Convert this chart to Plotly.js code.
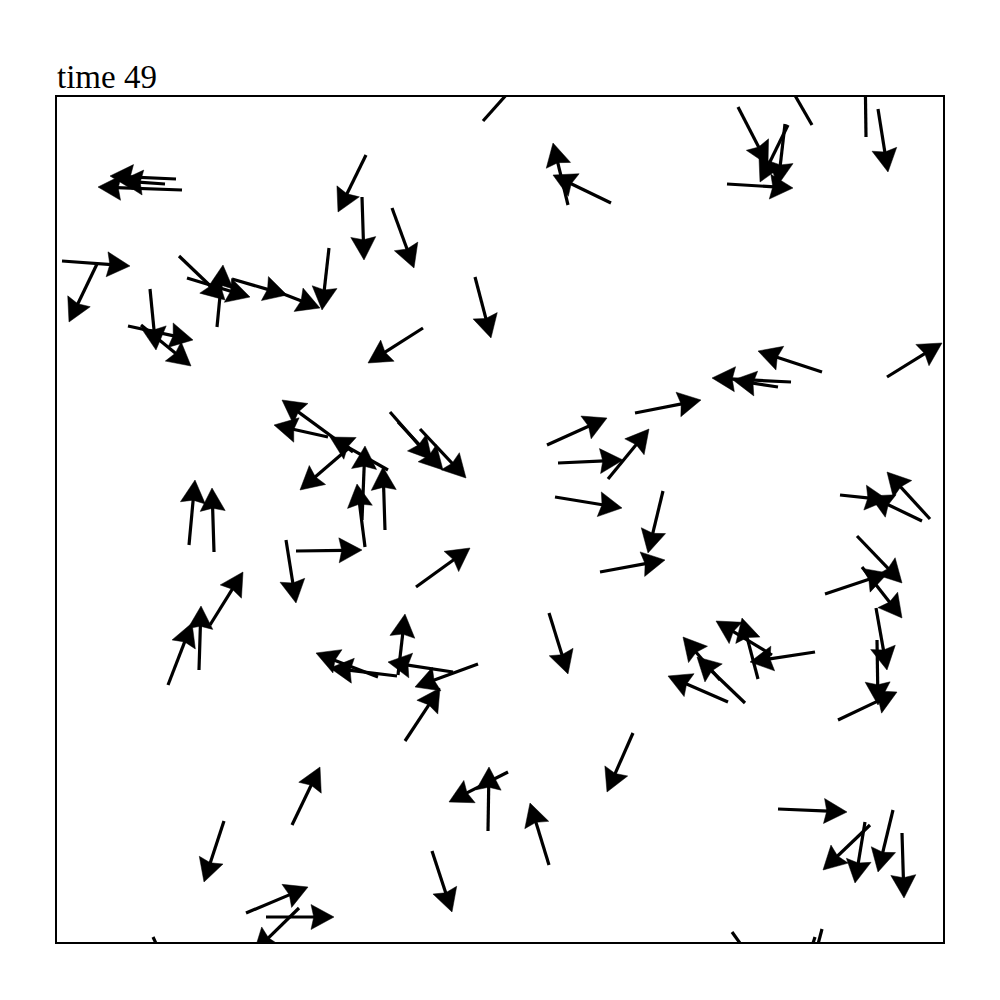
<!DOCTYPE html>
<html>
<head>
<meta charset="utf-8">
<script src="https://cdn.plot.ly/plotly-3.0.1.min.js"></script>
<style>html,body{margin:0;padding:0;background:#fff;}#chart{width:1000px;height:1000px;}</style>
</head>
<body>
<div id="chart"></div>
<script>
// Boid positions (tail) and arrow tips (plot units)
const tailX = [176,182,165,62,97,150,128,141,217,179,187,232,268,329,483,366,362,392,568,611,475,738,788,785,727,812,866,878,887,822,791,778,635,608,840,922,930,423,390,398,420,547,558,555,663,600,416,296,286,168,199,210,189,214,385,365,362,388,353,328,350,398,453,478,405,378,397,549,857,825,862,876,877,838,815,758,772,745,720,728,633,488,508,549,432,292,224,246,266,299,153,778,870,865,893,902,732,822,815];
const tailY = [179,190,184,261,264,289,326,325,327,256,278,279,288,248,121,155,197,208,205,203,277,107,125,124,184,125,137,109,377,372,382,387,413,479,495,521,519,328,412,422,429,445,463,497,491,572,587,551,540,685,670,625,545,552,530,547,520,470,452,437,447,675,672,664,741,677,676,613,536,594,567,608,640,720,652,679,655,703,680,702,733,831,772,865,851,825,821,913,917,908,937,809,825,822,810,833,932,929,937];
const tipX = [110,98,120,130,69,156,193,191,223,225,250,287,320,322,532,338,364,414,553,553,491,768,760,778,793,778,865,888,942,758,712,733,701,649,888,870,887,368,432,443,466,607,623,622,648,665,470,362,296,192,201,243,195,212,383,357,365,330,282,274,300,405,388,415,440,316,330,568,902,888,902,887,878,897,750,742,716,697,683,668,607,489,449,530,452,320,204,308,334,254,178,847,823,855,878,904,770,806,798];
const tipY = [176,187,181,266,322,350,340,366,265,300,297,295,308,310,66,212,260,268,143,175,338,165,182,185,188,66,62,172,343,351,378,380,400,429,500,496,472,363,460,470,478,418,460,508,553,560,548,550,603,623,606,572,480,488,467,484,446,437,400,425,490,614,662,687,688,653,668,674,583,573,618,670,705,692,662,618,621,657,637,676,792,767,802,803,912,767,882,887,917,952,990,812,870,883,872,898,985,990,990];
const titleText = 'time 49';

const HEAD_LEN = 23, HEAD_HALF = 12.5, NOTCH = 0.88, SHAFT_END = 0.8;
const shaftX = [], shaftY = [], headX = [], headY = [];
for (let i = 0; i < tailX.length; i++) {
  const dx = tipX[i] - tailX[i], dy = tipY[i] - tailY[i];
  const len = Math.hypot(dx, dy) || 1;
  const ux = dx / len, uy = dy / len, nx = -uy, ny = ux;
  shaftX.push(tailX[i], tipX[i] - ux * HEAD_LEN * SHAFT_END, null);
  shaftY.push(tailY[i], tipY[i] - uy * HEAD_LEN * SHAFT_END, null);
  const bx = tipX[i] - ux * HEAD_LEN, by = tipY[i] - uy * HEAD_LEN;
  headX.push(tipX[i], bx + nx * HEAD_HALF, tipX[i] - ux * HEAD_LEN * NOTCH, bx - nx * HEAD_HALF, tipX[i], null);
  headY.push(tipY[i], by + ny * HEAD_HALF, tipY[i] - uy * HEAD_LEN * NOTCH, by - ny * HEAD_HALF, tipY[i], null);
}

const traces = [
  {type: 'scatter', mode: 'lines', x: shaftX, y: shaftY, line: {color: '#000', width: 3.2}, hoverinfo: 'skip', showlegend: false},
  {type: 'scatter', mode: 'lines', x: headX, y: headY, fill: 'toself', fillcolor: '#000', line: {color: '#000', width: 0.5}, hoverinfo: 'skip', showlegend: false}
];

const axisCommon = {showgrid: false, zeroline: false, showticklabels: false, ticks: '', showline: true, mirror: true, linecolor: '#000', linewidth: 2};
const layout = {
  width: 1000, height: 1000,
  margin: {l: 57, r: 57, t: 97, b: 58},
  paper_bgcolor: '#fff', plot_bgcolor: '#fff',
  title: {text: titleText, x: 0.057, xref: 'container', xanchor: 'left', y: 0.912, yref: 'container', yanchor: 'bottom', font: {family: 'Liberation Serif, Times New Roman, serif', size: 33, color: '#000'}},
  xaxis: Object.assign({range: [57, 943]}, axisCommon),
  yaxis: Object.assign({range: [942, 97]}, axisCommon),
  showlegend: false
};
Plotly.newPlot('chart', traces, layout, {staticPlot: true});
</script>
</body>
</html>
